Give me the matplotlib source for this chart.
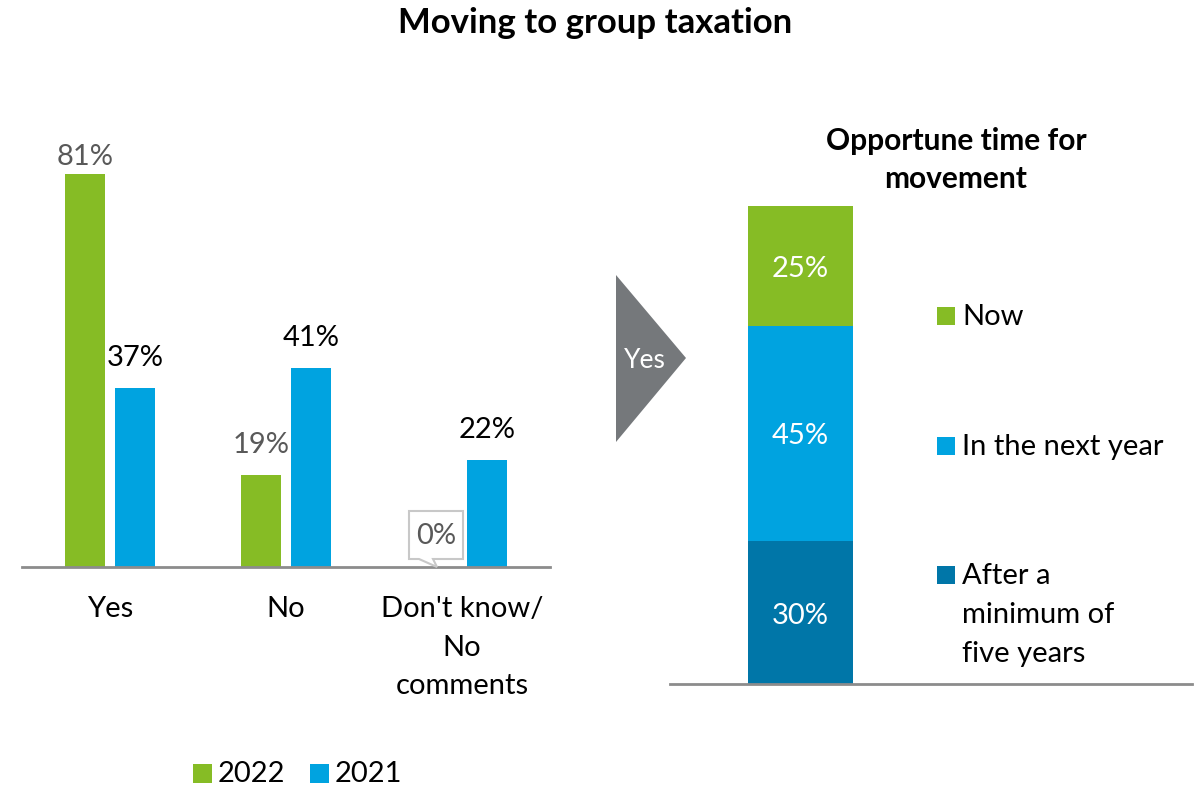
import matplotlib
matplotlib.use("Agg")
import matplotlib.pyplot as plt
from matplotlib.patches import Polygon, Rectangle
import numpy as np

plt.rcParams['font.family'] = ['Lato', 'DejaVu Sans']

# ---- data ----
categories = ["Yes", "No", "Don't know/\nNo\ncomments"]
values_2022 = [81, 19, 0]
values_2021 = [37, 41, 22]
series_names = ["2022", "2021"]

timing_labels = ["After a\nminimum of\nfive years", "In the next year", "Now"]
timing_values = [30, 45, 25]

title = "Moving to group taxation"
subtitle = "Opportune time for\nmovement"
arrow_text = "Yes"

# ---- style ----
GREEN = "#86BC25"
BLUE = "#00A3E0"
DARK_BLUE = "#0076A8"
ARROW_GREY = "#75787B"
AXIS_GREY = "#8C8C8C"
LABEL_GREY = "#595959"
FS = 21

W, H = 1198, 786
fig = plt.figure(figsize=(W / 100, H / 100), dpi=100)


def px_axes(left, top, right, bottom):
    return fig.add_axes([left / W, 1 - bottom / H, (right - left) / W, (bottom - top) / H])


def style_axes(a):
    for s in ("left", "right", "top"):
        a.spines[s].set_visible(False)
    a.spines["bottom"].set_color(AXIS_GREY)
    a.spines["bottom"].set_linewidth(2)
    a.set_yticks([])
    a.tick_params(axis="x", length=0)


# ---- left: grouped bars ----
ax = px_axes(22, 82, 550, 567)
x = np.arange(len(categories))
bw = 40 / 176
off = 25 / 176
bars22 = ax.bar(x - off, values_2022, bw, color=GREEN)
bars21 = ax.bar(x + off, values_2021, bw, color=BLUE)
ax.set_xlim(-0.5, len(categories) - 0.5)
ax.set_ylim(0, 100)
style_axes(ax)
ax.set_xticks(x)
ax.set_xticklabels(categories, fontsize=FS, linespacing=1.6, va="top")
ax.tick_params(axis="x", pad=21)

px_per_unit = 485 / 100.0
label_gap = 30 / px_per_unit
label_cap = (567 - 157) / px_per_unit


def value_label(xpos, val, color):
    ypos = min(val + label_gap, label_cap)
    ax.text(xpos, ypos, f"{val}%", ha="center", va="center", fontsize=FS, color=color)


for xi, v in zip(x - off, values_2022):
    if v > 0:
        value_label(xi, v, LABEL_GREY)
for xi, v in zip(x + off, values_2021):
    value_label(xi, v, "black")

# ---- right: stacked bar ----
axr = px_axes(670, 206, 1192, 684)
bar_w = 1.0
left_units = (800.5 - 670) / 105
right_units = (1192 - 800.5) / 105
axr.set_xlim(-left_units, right_units)
axr.set_ylim(0, sum(timing_values))
style_axes(axr)
axr.set_xticks([])
seg_colors = [DARK_BLUE, BLUE, GREEN]
bottom = 0
for val, col in zip(timing_values, seg_colors):
    axr.bar(0, val, bar_w, bottom=bottom, color=col)
    axr.text(0, bottom + val / 2 - 0.7, f"{val}%", ha="center", va="center",
             fontsize=FS, color="white")
    bottom += val

# ---- overlay for titles, arrow, legends, callout ----
ov = fig.add_axes([0, 0, 1, 1])
ov.set_xlim(0, W)
ov.set_ylim(H, 0)
ov.set_axis_off()

ov.text(595, 23, title, ha="center", va="center", fontsize=25, fontweight="bold")
ov.text(956, 160, subtitle, ha="center", va="center", fontsize=21.5,
        fontweight="bold", linespacing=1.45)

# arrow
ov.add_patch(Polygon([(616, 275), (616, 442), (686, 358)], closed=True,
                     facecolor=ARROW_GREY, edgecolor="none"))
ov.text(645, 360, arrow_text, ha="center", va="center", fontsize=19, color="white")

# right legend
sq = 18
leg_rows = [(DARK_BLUE, 575), (BLUE, 446), (GREEN, 316)]
for (col, yc), lab in zip(leg_rows, timing_labels):
    ov.add_patch(Rectangle((937, yc - sq / 2), sq, sq, facecolor=col, edgecolor="none"))
    if "\n" in lab:
        ov.text(962, 615, lab, ha="left", va="center", fontsize=FS, linespacing=1.6)
    else:
        ov.text(962, yc + 1, lab, ha="left", va="center", fontsize=FS)

# bottom legend
for col, name, sx in zip([GREEN, BLUE], series_names, [193, 310]):
    ov.add_patch(Rectangle((sx, 773 - sq / 2), sq + 1, sq + 1, facecolor=col, edgecolor="none"))
    ov.text(sx + 25, 774, name, ha="left", va="center", fontsize=FS)

# callout for the zero value
fig.canvas.draw()
zero_idx = values_2022.index(0)
tip = ax.transData.transform((x[zero_idx] - off, 0))
tx, ty = tip[0], H - tip[1]
box_l, box_r = tx - 28, tx + 26
box_t, box_b = ty - 56, ty - 8
callout = Polygon([(box_l, box_t), (box_r, box_t), (box_r, box_b), (tx - 4, box_b),
                   (tx, ty), (tx - 18, box_b), (box_l, box_b)], closed=True,
                  facecolor="white", edgecolor="#C8C8C8", linewidth=1.5)
ov.add_patch(callout)
ov.text((box_l + box_r) / 2, (box_t + box_b) / 2 + 1, f"{values_2022[zero_idx]}%",
        ha="center", va="center", fontsize=FS, color=LABEL_GREY)

fig.savefig("out.png", dpi=100)
